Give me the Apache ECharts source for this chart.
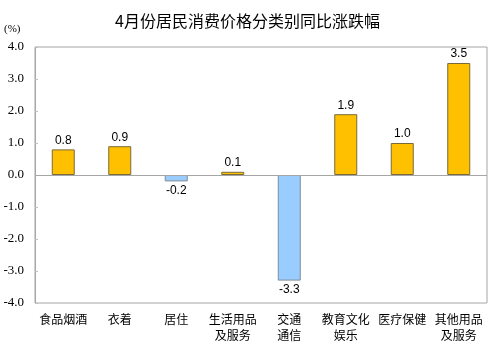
<!DOCTYPE html>
<html>
<head>
<meta charset="utf-8">
<script src="https://cdn.jsdelivr.net/npm/echarts@6/dist/echarts.min.js"></script>
<style>
  html, body { margin: 0; padding: 0; background: #fff; }
  #chart { width: 495px; height: 346px; }
</style>
</head>
<body>
<div id="chart"></div>
<script>
// 分类名称
const categories = ['食品烟酒', '衣着', '居住', '生活用品\n及服务', '交通\n通信', '教育文化\n娱乐', '医疗保健', '其他用品\n及服务'];
// 同比涨跌幅（%）
const values = [0.8, 0.9, -0.2, 0.1, -3.3, 1.9, 1.0, 3.5];
// 纵轴刻度
const yMin = -4, yMax = 4, yStep = 1;

const serif = "'Liberation Serif', serif";

const chart = echarts.init(document.getElementById('chart'));
chart.setOption({
  animation: false,
  title: {
    text: '4月份居民消费价格分类别同比涨跌幅',
    left: 'center',
    top: 8,
    textStyle: { fontFamily: 'Noto Sans CJK SC', fontSize: 16, fontWeight: 'normal', color: '#000' }
  },
  // 纵轴单位
  graphic: [{
    type: 'text',
    left: 4,
    top: 24,
    style: { text: '(%)', font: "11px 'Liberation Serif', serif", fill: '#000' }
  }],
  grid: {
    left: 35, right: 8, top: 47, bottom: 43,
    show: true, borderColor: '#a6a6a6', borderWidth: 1
  },
  xAxis: {
    type: 'category',
    data: categories,
    axisLine: { show: false, onZero: false },
    axisTick: { show: false },
    axisLabel: {
      interval: 0, margin: 8,
      fontFamily: 'Noto Sans CJK SC', fontSize: 12, color: '#000', lineHeight: 16
    }
  },
  yAxis: {
    type: 'value',
    min: yMin, max: yMax, interval: yStep,
    axisLine: { show: true, lineStyle: { color: '#a6a6a6' } },
    axisTick: { show: true, inside: true, length: 3, lineStyle: { color: '#c0c0c0' } },
    splitLine: { show: false },
    axisLabel: {
      formatter: v => v.toFixed(1), margin: 11,
      fontFamily: serif, fontSize: 13, color: '#000'
    }
  },
  series: [{
    type: 'bar',
    data: values.map(v => ({
      value: v,
      itemStyle: v >= 0
        ? { color: '#ffc000', borderColor: '#7a6a3a', borderWidth: 1 }
        : { color: '#99ccff', borderColor: '#7f8c99', borderWidth: 1 },
      label: { position: v >= 0 ? 'top' : 'bottom' }
    })),
    barWidth: 23,
    label: {
      show: true,
      formatter: p => p.value.toFixed(1),
      fontFamily: 'Liberation Sans', fontSize: 12, color: '#000', distance: 3
    },
    markLine: {
      silent: true,
      symbol: 'none',
      label: { show: false },
      lineStyle: { color: '#a6a6a6', type: 'solid', width: 1 },
      data: [{ yAxis: 0 }]
    }
  }]
});
</script>
</body>
</html>
